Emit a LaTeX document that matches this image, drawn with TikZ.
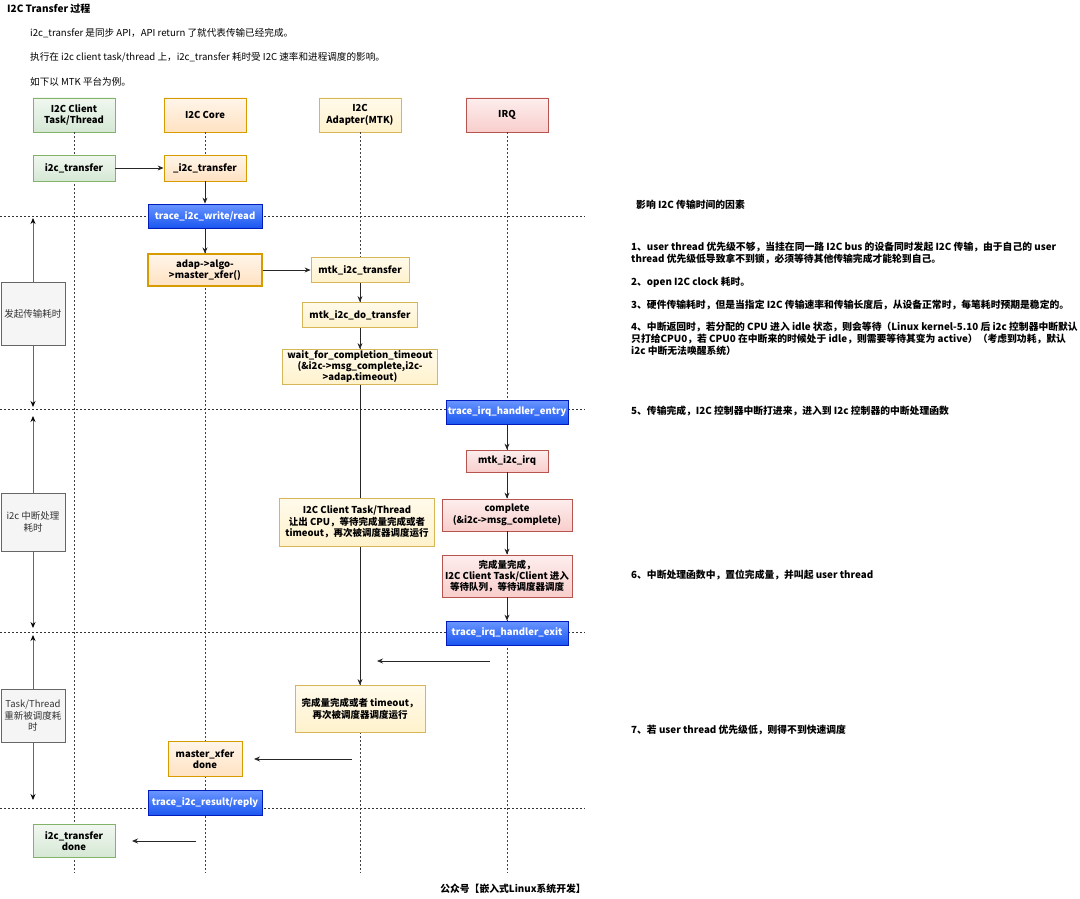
\documentclass[tikz,border=0pt]{standalone}
\usepackage{fontspec}
\setmainfont{Noto Sans CJK SC}
\usetikzlibrary{arrows.meta}

\definecolor{grnline}{HTML}{82B366}
\definecolor{grnfill}{HTML}{D5E8D4}
\definecolor{orgline}{HTML}{D79B00}
\definecolor{orgfill}{HTML}{FFE2C2}
\definecolor{ylwline}{HTML}{D6B656}
\definecolor{ylwfill}{HTML}{FFF2CC}
\definecolor{redline}{HTML}{B85450}
\definecolor{redfill}{HTML}{F8CECC}
\definecolor{blueline}{HTML}{001DBC}
\definecolor{bluefill}{HTML}{1A56F0}
\definecolor{bluetop}{HTML}{6A96FF}
\definecolor{gryline}{HTML}{666666}
\definecolor{gryfill}{HTML}{F5F5F5}
\definecolor{grytext}{HTML}{333333}

\newcommand\boxfont{\fontsize{9.5}{11.5}\selectfont\bfseries}
\newcommand\notefont{\fontsize{9.8}{12}\selectfont\bfseries}

\begin{document}
\begin{tikzpicture}[x=1pt, y=-1pt,
    box/.style={rectangle, draw, align=center, inner sep=1pt, font=\boxfont, line width=0.8pt},
    clientbox/.style={box, draw=grnline, top color=grnfill!35, bottom color=grnfill},
    corebox/.style={box, draw=orgline, top color=orgfill!35, bottom color=orgfill},
    adapterbox/.style={box, draw=ylwline, top color=ylwfill!40, bottom color=ylwfill},
    irqbox/.style={box, draw=redline, top color=redfill!35, bottom color=redfill},
    tracebox/.style={box, draw=blueline, top color=bluetop, bottom color=bluefill, text=white},
    costbox/.style={rectangle, draw=gryline, fill=gryfill, text=grytext, align=center, inner sep=1pt,
        font=\fontsize{9.5}{11.5}\selectfont, minimum width=64, line width=0.8pt},
    lifeline/.style={draw=black!75, dash pattern=on 2pt off 2pt, line width=0.6pt},
    sepline/.style={draw=black!80, dash pattern=on 2pt off 2pt, line width=0.6pt},
    msg/.style={draw=black!85, line width=0.8pt, -{Stealth[length=6pt,width=5pt]}},
    costarrow/.style={draw=gryline, line width=0.8pt, -{Stealth[length=6pt,width=5pt,color=black]}},
    note/.style={anchor=west, align=left, inner sep=0pt, font=\notefont}]
    \useasboundingbox (0,0) rectangle (1080,899);
    \begin{scope}
        % Title and intro
        \node[anchor=west, inner sep=0pt, font=\fontsize{10}{12}\selectfont\bfseries] (title) at (7,9) {I2C Transfer 过程};
        \node[anchor=west, inner sep=0pt, font=\fontsize{9.6}{12}\selectfont] (intro1) at (30,33) {i2c\_transfer 是同步 API，API return 了就代表传输已经完成。};
        \node[anchor=west, inner sep=0pt, font=\fontsize{9.6}{12}\selectfont] (intro2) at (30,57) {执行在 i2c client task/thread 上，i2c\_transfer 耗时受 I2C 速率和进程调度的影响。};
        \node[anchor=west, inner sep=0pt, font=\fontsize{9.6}{12}\selectfont] (intro3) at (30,82) {如下以 MTK 平台为例。};

        % Lifeline heads
        \node[clientbox, minimum width=82, minimum height=34] (client) at (74,115) {I2C Client\\Task/Thread};
        \node[corebox, minimum width=82, minimum height=34] (core) at (205,115) {I2C Core};
        \node[adapterbox, minimum width=82, minimum height=34] (adapter) at (360,115) {I2C\\Adapter(MTK)};
        \node[irqbox, minimum width=82, minimum height=34] (irq) at (507,115) {IRQ};

        % Lifelines and phase lines
        \coordinate (bottom) at (0,873);
        \foreach \h in {client,core,adapter,irq} {
            \draw[lifeline] (\h.south) -- (\h.south |- bottom);
        }
        \foreach \y in {216,409,632,808} {
            \draw[sepline] (0,\y) -- (585,\y);
        }

        % Start of transfer
        \node[clientbox, minimum width=82, minimum height=26] (transfer) at (74,168) {i2c\_transfer};
        \node[corebox, minimum width=82, minimum height=26] (coretransfer) at (205,168) {\_i2c\_transfer};
        \node[tracebox, minimum width=114, minimum height=24] (tracewr) at (205,216) {trace\_i2c\_write/read};
        \node[corebox, line width=1.1pt, minimum width=114, minimum height=32] (masterxfer) at (205,270) {adap->algo-\\>master\_xfer()};
        \node[adapterbox, minimum width=98, minimum height=25] (mtktransfer) at (360,270) {mtk\_i2c\_transfer};
        \node[adapterbox, minimum width=115, minimum height=25] (mtkdo) at (360,315) {mtk\_i2c\_do\_transfer};
        \node[adapterbox, minimum width=155, minimum height=35, font=\fontsize{9.5}{11}\selectfont\bfseries] (waitdone) at (360,367) {wait\_for\_completion\_timeout\\(\&i2c->msg\_complete,i2c-\\>adap.timeout)};

        % Interrupt handling
        \node[tracebox, minimum width=122, minimum height=24] (irqentry) at (507,412) {trace\_irq\_handler\_entry};
        \node[irqbox, minimum width=82, minimum height=22] (irqhandler) at (507,461) {mtk\_i2c\_irq};
        \node[irqbox, minimum width=130, minimum height=32] (complete) at (507,515) {complete\\(\&i2c->msg\_complete)};
        \node[irqbox, minimum width=130, minimum height=42, font=\fontsize{9.5}{11}\selectfont\bfseries] (compdone) at (507,576) {完成量完成，\\I2C Client Task/Client 进入\\等待队列，等待调度器调度};
        \node[tracebox, minimum width=122, minimum height=24] (irqexit) at (507,633) {trace\_irq\_handler\_exit};

        % Back to the client
        \node[adapterbox, minimum width=130, minimum height=47] (rerun) at (360,709) {完成量完成或者 timeout，\\再次被调度器调度运行};
        \node[corebox, minimum width=74, minimum height=35] (mxdone) at (205,759) {master\_xfer\\done};
        \node[tracebox, minimum width=114, minimum height=25] (tracert) at (205,803) {trace\_i2c\_result/reply};
        \node[clientbox, minimum width=82, minimum height=33] (tdone) at (74,841) {i2c\_transfer\\done};

        % Calls
        \draw[msg] (transfer) -- (coretransfer);
        \draw[msg] (coretransfer) -- (tracewr);
        \draw[msg] (tracewr) -- (masterxfer);
        \draw[msg] (masterxfer) -- (mtktransfer);
        \draw[msg] (mtktransfer) -- (mtkdo);
        \draw[msg] (mtkdo) -- (waitdone);
        \draw[msg] (waitdone) -- (rerun);
        \draw[msg] (irqentry) -- (irqhandler);
        \draw[msg] (irqhandler) -- (complete);
        \draw[msg] (complete) -- (compdone);
        \draw[msg] (compdone) -- (irqexit);

        % Returns
        \coordinate (wakefrom) at (490,661);
        \coordinate (waketo) at (377,661);
        \coordinate (mxfrom) at (352,759);
        \coordinate (mxto) at (254,759);
        \coordinate (donefrom) at (196,841);
        \coordinate (doneto) at (132,841);
        \draw[msg] (wakefrom) -- (waketo);
        \draw[msg] (mxfrom) -- (mxto);
        \draw[msg] (donefrom) -- (doneto);

        % Task gives up the CPU
        \node[adapterbox, minimum width=155, minimum height=48] (yield) at (357,522) {I2C Client Task/Thread\\让出 CPU，等待完成量完成或者\\timeout，再次被调度器调度运行};

        % Time spans
        \node[costbox, minimum height=63] (initcost) at (33,314) {发起传输耗时};
        \node[costbox, minimum height=58] (irqcost) at (33,522) {i2c 中断处理\\耗时};
        \node[costbox, minimum height=53] (schedcost) at (33,716) {Task/Thread\\重新被调度耗\\时};
        \coordinate (init top) at (33,218);
        \coordinate (init bot) at (33,407);
        \coordinate (irq top) at (33,416);
        \coordinate (irq bot) at (33,628);
        \coordinate (sched top) at (33,635);
        \coordinate (sched bot) at (33,800);
        \draw[costarrow] (initcost) -- (init top);
        \draw[costarrow] (initcost) -- (init bot);
        \draw[costarrow] (irqcost) -- (irq top);
        \draw[costarrow] (irqcost) -- (irq bot);
        \draw[costarrow] (schedcost) -- (sched top);
        \draw[costarrow] (schedcost) -- (sched bot);

        % Notes
        \node[note] (factors) at (636,205) {影响 I2C 传输时间的因素};
        \node[note] (note1) at (631,253) {1、user thread 优先级不够，当挂在同一路 I2C bus 的设备同时发起 I2C 传输，由于自己的 user\\thread 优先级低导致拿不到锁，必须等待其他传输完成才能轮到自己。};
        \node[note] (note2) at (631,282) {2、open I2C clock 耗时。};
        \node[note] (note3) at (631,305) {3、硬件传输耗时，但是当指定 I2C 传输速率和传输长度后，从设备正常时，每笔耗时预期是稳定的。};
        \node[note] (note4) at (631,339) {4、中断返回时，若分配的 CPU 进入 idle 状态，则会等待（Linux kernel-5.10 后 i2c 控制器中断默认\\只打给CPU0，若 CPU0 在中断来的时候处于 idle，则需要等待其变为 active）（考虑到功耗，默认\\i2c 中断无法唤醒系统）};
        \node[note] (note5) at (631,411) {5、传输完成，I2C 控制器中断打进来，进入到 I2c 控制器的中断处理函数};
        \node[note] (note6) at (631,575) {6、中断处理函数中，置位完成量，并叫起 user thread};
        \node[note] (note7) at (631,730) {7、若 user thread 优先级低，则得不到快速调度};
        \node[anchor=center, inner sep=0pt, font=\notefont] (account) at (513,889) {公众号【嵌入式Linux系统开发】};
    \end{scope}
\end{tikzpicture}
\end{document}
